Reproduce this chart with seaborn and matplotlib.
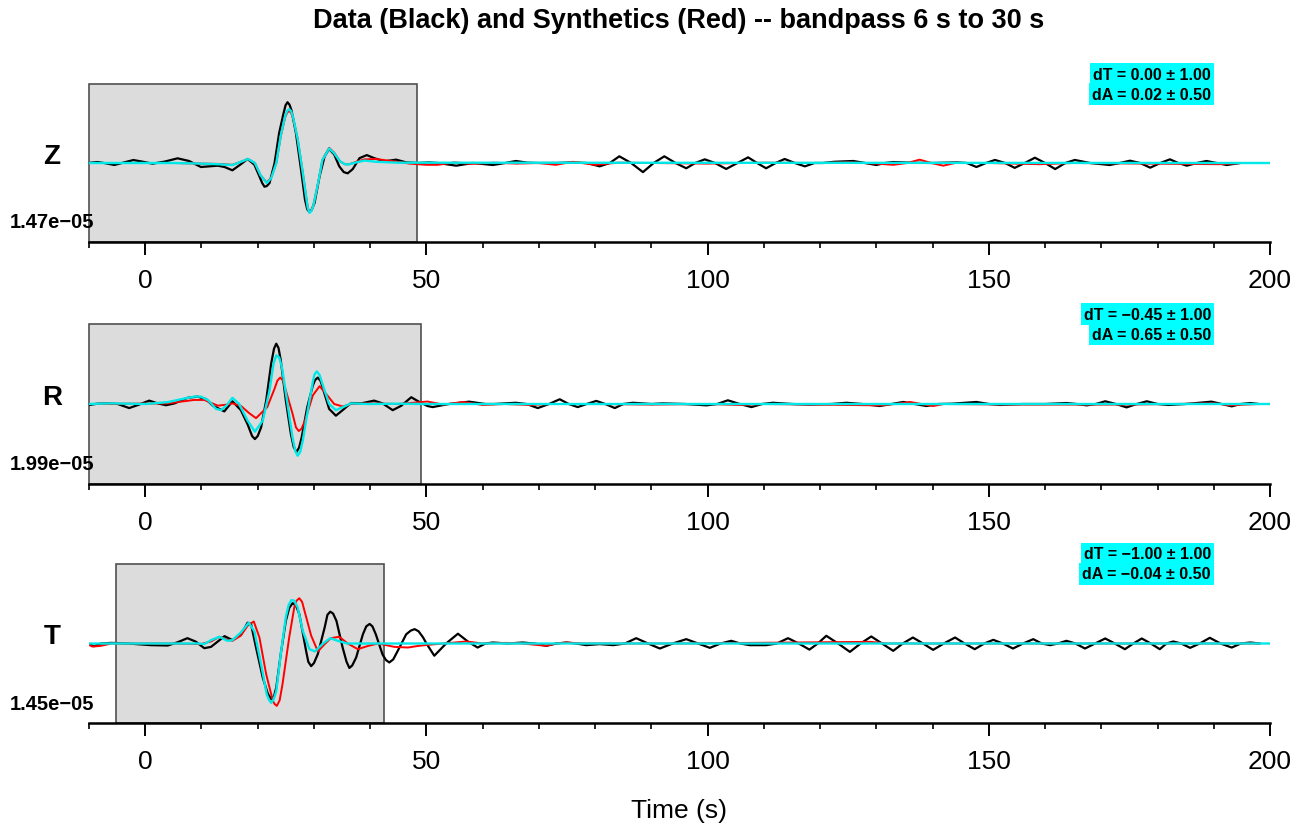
import matplotlib
matplotlib.use("Agg")
import matplotlib.pyplot as plt
from matplotlib.ticker import MultipleLocator
import numpy as np
import pandas as pd
import seaborn as sns

# ---------------- data ----------------
components = ["Z", "R", "T"]
amp_labels = ["1.47e\u221205", "1.99e\u221205", "1.45e\u221205"]
dT_text = ["dT = 0.00 \u00b1 1.00", "dT = \u22120.45 \u00b1 1.00", "dT = \u22121.00 \u00b1 1.00"]
dA_text = ["dA = 0.02 \u00b1 0.50", "dA = 0.65 \u00b1 0.50", "dA = \u22120.04 \u00b1 0.50"]
win_start = [-10.0, -10.0, -5.2]
win_end = [48.4, 49.1, 42.5]
x_ticks = [0, 50, 100, 150, 200]

# Z component (amplitudes normalised to black max)
z_black_t = [-10.3, -8.5, -7.0, -5.5, -3.7, -2.1, -0.5, 1.3, 3.4, 5.75, 7.8, 9.9, 11.4, 12.9, 14.1, 15.5, 16.9,
             18.2, 19.4, 20.3, 20.8, 21.2, 21.6, 22.1, 23.0, 23.8, 24.6, 24.95, 25.3, 25.65, 26.0, 26.8, 27.7,
             28.4, 28.8, 29.2, 29.6, 30.1, 31.0, 31.9, 32.7, 33.6, 34.5, 35.3, 36.0, 36.9, 38.1, 39.4, 40.7,
             42.5, 44.6, 46.4, 48.5, 50.5, 52, 55.3, 58.3, 61.8, 64, 65.9, 68, 70, 73.1, 76, 78.5, 80.8, 82.6,
             84.3, 86.4, 88.5, 90.4, 92.3, 94.3, 96.2, 97.8, 99.5, 101.3, 103.3, 105.3, 107.2, 108.8, 110.4,
             112.1, 113.7, 115.5, 117.3, 119, 120.5, 122.5, 125.9, 128, 130.0, 131.5, 133.0, 136, 140, 144.3,
             146.1, 147.8, 149.5, 151.1, 152.9, 154.6, 156.4, 158.2, 160, 161.8, 163.6, 165.3, 168, 171.5, 173.3,
             175.1, 176.9, 178.7, 180.5, 182.2, 183.7, 185.2, 187, 188.7, 190.5, 192.3, 194.7]
z_black_a = [0, 0.016, -0.005, -0.033, 0.011, 0.049, 0.022, -0.011, 0.022, 0.077, 0.033, -0.066, -0.055, -0.044,
             -0.066, -0.12, -0.027, 0.066, -0.027, -0.22, -0.33, -0.39, -0.38, -0.33, 0.0, 0.49, 0.82, 0.95, 1.0,
             0.96, 0.87, 0.49, -0.11, -0.60, -0.76, -0.81, -0.77, -0.66, -0.22, 0.11, 0.23, 0.14, -0.055, -0.15,
             -0.17, -0.10, 0.08, 0.13, 0.08, 0.027, 0.055, 0.011, 0.0, 0.01, 0, -0.044, 0, -0.033, 0, 0.033,
             0.005, 0, 0, 0.01, 0, -0.055, 0, 0.11, 0, -0.15, 0, 0.11, 0, -0.087, 0, 0.06, 0, -0.098, 0, 0.093,
             0, -0.087, 0, 0.066, 0, -0.055, 0, 0, 0.02, 0.033, 0, -0.033, 0, 0.016, 0.005, 0, 0.01, 0, -0.066,
             0, 0.05, 0, -0.08, 0, 0.087, 0, -0.1, 0, 0.05, 0, -0.033, 0, 0.038, 0, -0.077, 0, 0.06, 0, -0.044,
             0, 0.033, 0, -0.033, 0]
z_red_t = [-10.3, 5, 10, 13, 15.5, 17, 18.3, 19.5, 20.5, 21.6, 22.4, 23.3, 24.1, 24.9, 25.25, 25.6, 25.95, 26.3,
           27.1, 28.0, 28.6, 28.9, 29.2, 29.55, 29.9, 30.8, 31.5, 32.7, 33.6, 34.6, 35.5, 36.3, 37.5, 39.0, 41.0,
           44, 47, 50, 52, 55, 58, 62, 66, 70, 73, 76, 80, 84, 90, 100, 110, 120, 125, 130, 133, 135.5, 137.7,
           139.8, 141.9, 144, 150, 159, 165, 191, 195]
z_red_a = [0, 0, -0.01, -0.015, -0.03, 0.02, 0.066, 0.0, -0.2, -0.32, -0.24, 0.0, 0.44, 0.76, 0.83, 0.86, 0.82,
           0.74, 0.4, -0.15, -0.55, -0.73, -0.81, -0.78, -0.69, -0.3, 0.05, 0.25, 0.17, 0.03, -0.02, -0.02, 0.02,
           0.06, 0.066, 0.03, -0.01, -0.03, -0.03, 0.01, -0.015, 0.005, -0.01, 0.0, -0.03, 0.02, -0.03, 0.005, 0,
           -0.01, 0.005, 0, 0.01, -0.01, -0.03, 0, 0.055, 0, -0.044, 0, 0, -0.02, 0, -0.02, 0]
z_cyan_t = [-10.3, 5, 10, 13, 15.5, 17, 18.3, 19.5, 20.5, 21.6, 22.4, 23.3, 24.1, 24.9, 25.25, 25.6, 25.95, 26.3,
            27.1, 28.0, 28.6, 28.9, 29.2, 29.55, 29.9, 30.8, 31.5, 32.7, 33.6, 34.6, 35.5, 36.1, 37.5, 39.0, 41,
            45, 200]
z_cyan_a = [0, 0, -0.01, -0.02, -0.035, 0.02, 0.066, 0.0, -0.2, -0.33, -0.25, 0.0, 0.45, 0.78, 0.86, 0.885,
            0.85, 0.75, 0.4, -0.15, -0.55, -0.74, -0.82, -0.79, -0.7, -0.3, 0.05, 0.24, 0.16, 0.03, -0.02, -0.025,
            0.01, 0.04, 0.02, 0.005, 0]

# R component
r_black_t = [-10.3, -8.5, -6.4, -4.9, -2.85, -1.1, 0.7, 2.2, 3.7, 5.2, 7.5, 9.3, 10.8, 12.0, 14.06, 15.5, 17.0,
             18.2, 19.0, 19.5, 20.0, 20.6, 21.5, 22.4, 22.9, 23.3, 23.7, 24.1, 25.0, 25.9, 26.4, 26.9, 27.35,
             27.8, 28.8, 29.8, 30.2, 30.7, 31.2, 31.7, 32.7, 33.9, 35.1, 36.6, 38.4, 40.7, 42.2, 44.0, 45.5, 47.3,
             48.8, 50.2, 51.1, 54, 57.6, 60.5, 62, 65.9, 67.8, 69.8, 71.8, 73.7, 75.3, 76.9, 78.5, 80.2, 81.8,
             83.5, 85, 86.7, 90, 92, 96, 99.8, 101.7, 103.6, 105.7, 107.8, 109.7, 111.6, 115, 118, 122, 124.7,
             127.5, 130.6, 132.7, 134.8, 136.8, 138.9, 141, 143.5, 147.8, 150, 152, 156, 160, 163.8, 165.6, 167.4,
             169, 170.7, 172.6, 174.5, 176.3, 178.1, 180, 181.9, 185, 189.6, 191.4, 193.2, 194.8, 196.5, 198]
r_black_a = [-0.02, 0.005, 0.01, 0.0, -0.066, -0.01, 0.055, 0.01, -0.02, 0.01, 0.1, 0.12, 0.08, -0.027, -0.12,
             0.044, -0.1, -0.33, -0.52, -0.57, -0.52, -0.38, 0.055, 0.66, 0.9, 0.98, 0.91, 0.71, 0.055, -0.49,
             -0.7, -0.78, -0.71, -0.55, -0.055, 0.3, 0.39, 0.43, 0.37, 0.22, -0.08, -0.19, -0.1, 0.016, 0.01,
             0.055, 0.01, -0.1, -0.03, 0.11, 0.03, -0.033, -0.05, 0, 0.038, 0.0, 0, 0.02, 0, -0.066, 0, 0.077, 0,
             -0.05, 0, 0.05, 0, -0.066, 0, 0.02, 0, 0.01, 0, -0.022, 0, 0.06, 0, -0.05, 0, 0.02, 0, -0.01, 0,
             0.02, 0, -0.033, 0, 0.033, 0, -0.033, 0, 0.005, 0.033, 0, -0.016, 0, 0, 0.016, 0, -0.022, 0, 0.044,
             0, -0.055, 0, 0.044, 0, -0.016, 0, 0.038, 0, -0.038, 0, 0.016, 0]
r_red_t = [-10.3, 4, 6.5, 8.7, 10.5, 12.9, 14.5, 15.5, 17.0, 18.5, 19.7, 21.7, 23.0, 23.5, 24.0, 24.5, 25.0,
           26.2, 26.8, 27.3, 27.8, 28.4, 29.8, 31.0, 32.2, 33.6, 35.1, 36.6, 40, 45, 50.2, 53, 56.5, 60, 64,
           68.3, 72, 80, 90, 100, 105.7, 110, 130.6, 133.4, 136, 138, 140.1, 142, 155, 175, 190, 193, 198]
r_red_a = [0, 0.01, 0.04, 0.066, 0.066, -0.027, -0.01, 0.01, -0.03, -0.15, -0.23, -0.05, 0.25, 0.38, 0.43, 0.38,
           0.22, -0.16, -0.38, -0.44, -0.4, -0.27, 0.14, 0.29, 0.16, 0.0, -0.04, 0.0, 0.01, 0, 0.04, -0.01,
           0.033, -0.016, 0, -0.016, 0, 0, -0.01, 0, -0.016, 0, -0.022, 0, 0.033, 0, -0.033, 0, -0.01, -0.01,
           0.01, -0.02, 0]
r_cyan_t = [-10.3, -6, 0, 4, 6.5, 8.7, 9.9, 11.2, 12.6, 13.5, 14.5, 15.5, 16.7, 18.2, 19.5, 20.9, 22.1, 22.8,
            23.3, 23.8, 24.3, 25.3, 26.2, 26.7, 27.1, 27.55, 28.0, 29.0, 29.8, 30.1, 30.5, 31.0, 31.6, 32.7, 33.9,
            35.4, 36.6, 39.6, 45, 50, 200]
r_cyan_a = [0, 0.01, 0.0, 0.03, 0.08, 0.12, 0.12, 0.06, -0.08, -0.1, -0.02, 0.1, 0.0, -0.27, -0.45, -0.27, 0.22,
            0.65, 0.79, 0.76, 0.6, 0.0, -0.55, -0.77, -0.84, -0.78, -0.6, -0.05, 0.36, 0.48, 0.53, 0.47, 0.3,
            0.0, -0.1, -0.04, 0.01, 0.0, 0.005, 0, 0]

# T component
t_black_t = [-10.3, -9.1, -7.9, -6.1, -3.1, 1.0, 4.0, 5.75, 7.5, 9.0, 10.5, 11.7, 14.1, 15.5, 17.0, 18.2, 18.8,
             19.7, 20.9, 21.8, 22.4, 22.9, 23.3, 24.1, 25.0, 25.6, 26.2, 26.8, 27.4, 28.6, 29.0, 29.5, 30.0,
             30.7, 31.9, 32.4, 32.9, 33.4, 34.0, 35.1, 35.8, 36.3, 36.8, 37.5, 38.7, 39.3, 39.9, 40.4, 41.0,
             42.2, 42.8, 43.4, 44.1, 44.9, 46.4, 47.2, 47.9, 48.6, 49.4, 50.0, 51.4, 53.5, 55.6, 57.4, 59.1,
             60.5, 61.8, 64.5, 67.1, 69.2, 71.3, 73.1, 74.9, 76.6, 78.4, 80.8, 83.2, 85.3, 87.3, 89.4, 91.5,
             93.8, 96.2, 98.3, 100.4, 102.3, 104.2, 105.8, 107.5, 110.4, 112.3, 114.3, 116.2, 118.1, 119.6,
             121.1, 123.2, 125.3, 127.2, 129.1, 131, 133.0, 134.7, 136.5, 138.3, 140.1, 142, 144.0, 145.7,
             147.5, 149.2, 150.8, 152.5, 154.3, 156.1, 157.9, 159.4, 160.9, 162.3, 163.8, 165.4, 167.1, 168.9,
             170.7, 172.4, 174.2, 175.7, 177.2, 178.8, 180.4, 181.6, 182.8, 184.2, 185.8, 187.5, 189.3, 191.2,
             193.2, 194.8, 196.5, 198.2]
t_black_a = [0, -0.044, 0, 0.01, 0.0, -0.027, -0.033, 0.02, 0.087, 0.03, -0.077, -0.055, 0.12, 0.055, 0.14, 0.34,
             0.32, -0.066, -0.56, -0.82, -0.91, -0.86, -0.72, -0.17, 0.37, 0.58, 0.66, 0.62, 0.48, -0.12, -0.3,
             -0.37, -0.32, -0.17, 0.26, 0.47, 0.52, 0.49, 0.37, -0.066, -0.3, -0.4, -0.36, -0.23, 0.15, 0.28,
             0.32, 0.28, 0.15, -0.18, -0.27, -0.31, -0.26, -0.12, 0.15, 0.21, 0.235, 0.2, 0.1, 0.0, -0.2, 0, 0.16,
             0.03, -0.066, 0, 0.016, 0.0, 0.016, 0, -0.038, 0, 0.016, 0, -0.027, -0.01, -0.027, 0, 0.087, 0,
             -0.082, 0, 0.071, 0, -0.071, 0, 0.044, 0, -0.027, -0.027, 0, 0.087, 0, -0.1, 0, 0.126, 0, -0.137, 0,
             0.115, 0, -0.12, 0, 0.098, 0, -0.104, 0, 0.098, 0, -0.093, 0, 0.06, 0, -0.082, 0, 0.071, 0, -0.027,
             0, 0.044, 0, -0.082, 0, 0.082, 0, -0.093, 0, 0.082, 0, -0.093, 0, 0.033, 0, -0.071, 0, 0.093, 0,
             -0.066, 0, 0.016, 0]
t_red_t = [-10.3, -9.4, -8, -6, 5, 9.9, 11.7, 13.2, 14.3, 15.5, 17.0, 18.2, 19.3, 20.3, 21.5, 22.7, 23.0, 23.4,
           23.9, 24.4, 25.6, 26.5, 26.9, 27.4, 27.9, 28.3, 29.5, 30.7, 31.9, 33.0, 34.5, 36.0, 37.8, 39.6, 41.4,
           44.3, 46.7, 48.5, 50.5, 53, 57.1, 60, 64.2, 67, 71.3, 73, 74.9, 78, 85, 95, 129, 132, 198]
t_red_a = [-0.01, -0.05, -0.04, 0, 0, -0.01, 0.033, 0.11, 0.07, 0.044, 0.13, 0.29, 0.36, 0.1, -0.5, -0.94, -0.99,
           -1.02, -0.93, -0.67, 0.1, 0.59, 0.7, 0.74, 0.68, 0.54, 0.13, -0.13, -0.01, 0.087, 0.11, 0.0, -0.093,
           -0.04, 0.0, -0.055, -0.066, -0.04, -0.02, 0.0, 0.033, 0, 0.01, 0, -0.038, 0, 0.016, 0, 0, 0, 0.027,
           0, 0]
t_cyan_t = [-10.3, 9.5, 10.5, 11.7, 13.2, 14.6, 15.5, 17.0, 18.4, 19.4, 20.6, 21.6, 22.0, 22.4, 22.8, 23.3, 24.1,
            25.0, 25.5, 26.0, 26.5, 27.1, 28.0, 29.2, 30.2, 31.6, 32.9, 34.2, 35.9, 38, 200]
t_cyan_a = [0, 0.0, -0.01, 0.055, 0.11, 0.044, 0.055, 0.18, 0.34, 0.2, -0.34, -0.83, -0.92, -0.97, -0.92, -0.78,
            -0.17, 0.43, 0.63, 0.71, 0.7, 0.59, 0.21, -0.093, -0.13, 0.0, 0.087, 0.045, 0.0, 0, 0]

traces = [
    [(z_black_t, z_black_a), (z_red_t, z_red_a), (z_cyan_t, z_cyan_a)],
    [(r_black_t, r_black_a), (r_red_t, r_red_a), (r_cyan_t, r_cyan_a)],
    [(t_black_t, t_black_a), (t_red_t, t_red_a), (t_cyan_t, t_cyan_a)],
]

# ---------------- style ----------------
sns.set_style("white")
plt.rcParams["font.family"] = ["Liberation Sans", "DejaVu Sans"]
plt.rcParams["text.color"] = "black"
plt.rcParams["xtick.color"] = "black"

W, H = 1311, 829
fig = plt.figure(figsize=(W / 100, H / 100), dpi=100)

line_colors = ["black", "#ff0000", "#00e8e8"]
line_widths = [1.6, 1.4, 1.7]

panel_top_px = [85, 325, 565]
panel_bot_px = [243, 485, 724]
ax_left_px, ax_right_px = 89, 1270

for i in range(3):
    top, bot = panel_top_px[i], panel_bot_px[i]
    ax = fig.add_axes([ax_left_px / W, 1 - bot / H, (ax_right_px - ax_left_px) / W, (bot - top) / H])
    ax.set_xlim(-10, 200)
    ax.set_ylim(-1.3, 1.3)
    ax.axvspan(win_start[i], win_end[i], ymin=0, ymax=1, facecolor="#dcdcdc",
               edgecolor="#505050", linewidth=1.2, zorder=0, clip_on=False)
    for (tt, aa), c, lw in zip(traces[i], line_colors, line_widths):
        df = pd.DataFrame({"t": tt, "a": aa})
        sns.lineplot(data=df, x="t", y="a", color=c, linewidth=lw, ax=ax,
                     sort=False, estimator=None, zorder=3,
                     solid_joinstyle="round", solid_capstyle="round")
    ax.set_xlabel("")
    ax.set_ylabel("")
    ax.set_yticks([])
    for s in ["top", "left", "right"]:
        ax.spines[s].set_visible(False)
    ax.spines["bottom"].set_linewidth(1.8)
    ax.spines["bottom"].set_color("black")
    ax.set_xticks(x_ticks)
    ax.xaxis.set_minor_locator(MultipleLocator(10))
    ax.tick_params(axis="x", which="both", bottom=True, top=False)
    ax.tick_params(axis="x", which="major", direction="out", length=9.5, width=1.4,
                   labelsize=19, pad=9, colors="black")
    ax.tick_params(axis="x", which="minor", direction="out", length=4, width=1.2, colors="black")
    ax.set_facecolor("none")

    # component label and amplitude
    cy = (top + bot) / 2
    fig.text(52 / W, 1 - (cy - 7) / H, components[i], fontsize=20, fontweight="bold",
             ha="center", va="center")
    fig.text(52 / W, 1 - (bot - 20) / H, amp_labels[i], fontsize=14.5, fontweight="bold",
             ha="center", va="center")
    # dT / dA boxes
    fig.text(1211 / W, 1 - (top - 10) / H, dT_text[i], fontsize=11.5, fontweight="bold",
             ha="right", va="center",
             bbox=dict(facecolor="#00ffff", edgecolor="none", pad=2.2))
    fig.text(1211 / W, 1 - (top + 10) / H, dA_text[i], fontsize=11.5, fontweight="bold",
             ha="right", va="center",
             bbox=dict(facecolor="#00ffff", edgecolor="none", pad=2.2))

fig.text(679 / W, 1 - 21 / H, "Data (Black) and Synthetics (Red) -- bandpass 6 s to 30 s",
         fontsize=19.5, fontweight="bold", ha="center", va="center")
fig.text(679 / W, 1 - 811 / H, "Time (s)", fontsize=19, ha="center", va="center")

fig.savefig("out.png", dpi=100)
